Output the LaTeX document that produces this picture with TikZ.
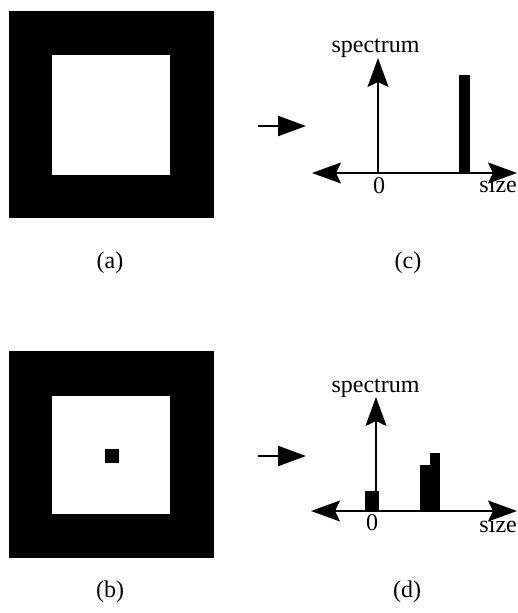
\documentclass[tikz,border=0pt]{standalone}
\usepackage{fontspec}
\setmainfont{Liberation Serif}
\usetikzlibrary{arrows.meta}

\begin{document}
\begin{tikzpicture}[
      x=1pt, y=-1pt,
      font=\fontsize{24}{28}\selectfont,
      every node/.style={inner sep=0pt},
      axistip/.tip={Stealth[length=29pt,width=21pt,inset=5pt]},
      xaxis/.style={draw, line width=1.7pt, axistip-axistip},
      yaxis/.style={draw, line width=1.7pt, -axistip},
      maparrow/.style={draw, line width=2.2pt, -{Triangle[length=28pt,width=20pt]}},
      lbl/.style={anchor=base},
      sizelbl/.style={anchor=base east},
    ]
    \useasboundingbox (0,0) rectangle (518,613);

    % (a) frame and its spectrum (c)
    \fill (9,11) rectangle (214,218);
    \fill[white] (52,55) rectangle (170,175);
    \coordinate (ma0) at (258,126);
    \coordinate (ma1) at (306,126);
    \draw[maparrow] (ma0) -- (ma1);
    \coordinate (oc) at (378,173);
    \coordinate (lc) at (312,173);
    \coordinate (rc) at (517,173);
    \coordinate (tc) at (378,58);
    \fill (459,75) rectangle (470,173);
    \draw[xaxis] (lc) -- (rc);
    \draw[yaxis] (oc) -- (tc);
    \node[lbl] (specc) at (375.5,52) {spectrum};
    \node[lbl] (zeroc) at (379,193) {0};
    \node[sizelbl] (sizec) at (517,192) {size};
    \node[lbl] (capa) at (110,268) {(a)};
    \node[lbl] (capc) at (408,268) {(c)};

    % (b) frame with a dot and its spectrum (d)
    \fill (9,351) rectangle (214,558);
    \fill[white] (52,396) rectangle (170,514);
    \fill (105,449) rectangle (119,463);
    \coordinate (mb0) at (258,456);
    \coordinate (mb1) at (306,456);
    \draw[maparrow] (mb0) -- (mb1);
    \coordinate (od) at (376,511);
    \coordinate (ld) at (311,511);
    \coordinate (rd) at (517,511);
    \coordinate (td) at (376,397);
    \fill (365,491) rectangle (379,511);
    \fill (420,465) rectangle (430,511);
    \fill (430,453) rectangle (440,511);
    \draw[xaxis] (ld) -- (rd);
    \draw[yaxis] (od) -- (td);
    \node[lbl] (specd) at (375.5,392) {spectrum};
    \node[lbl] (zerod) at (372,530) {0};
    \node[sizelbl] (sized) at (517,532) {size};
    \node[lbl] (capb) at (110,597) {(b)};
    \node[lbl] (capd) at (407,597) {(d)};
  \end{tikzpicture}
\end{document}
